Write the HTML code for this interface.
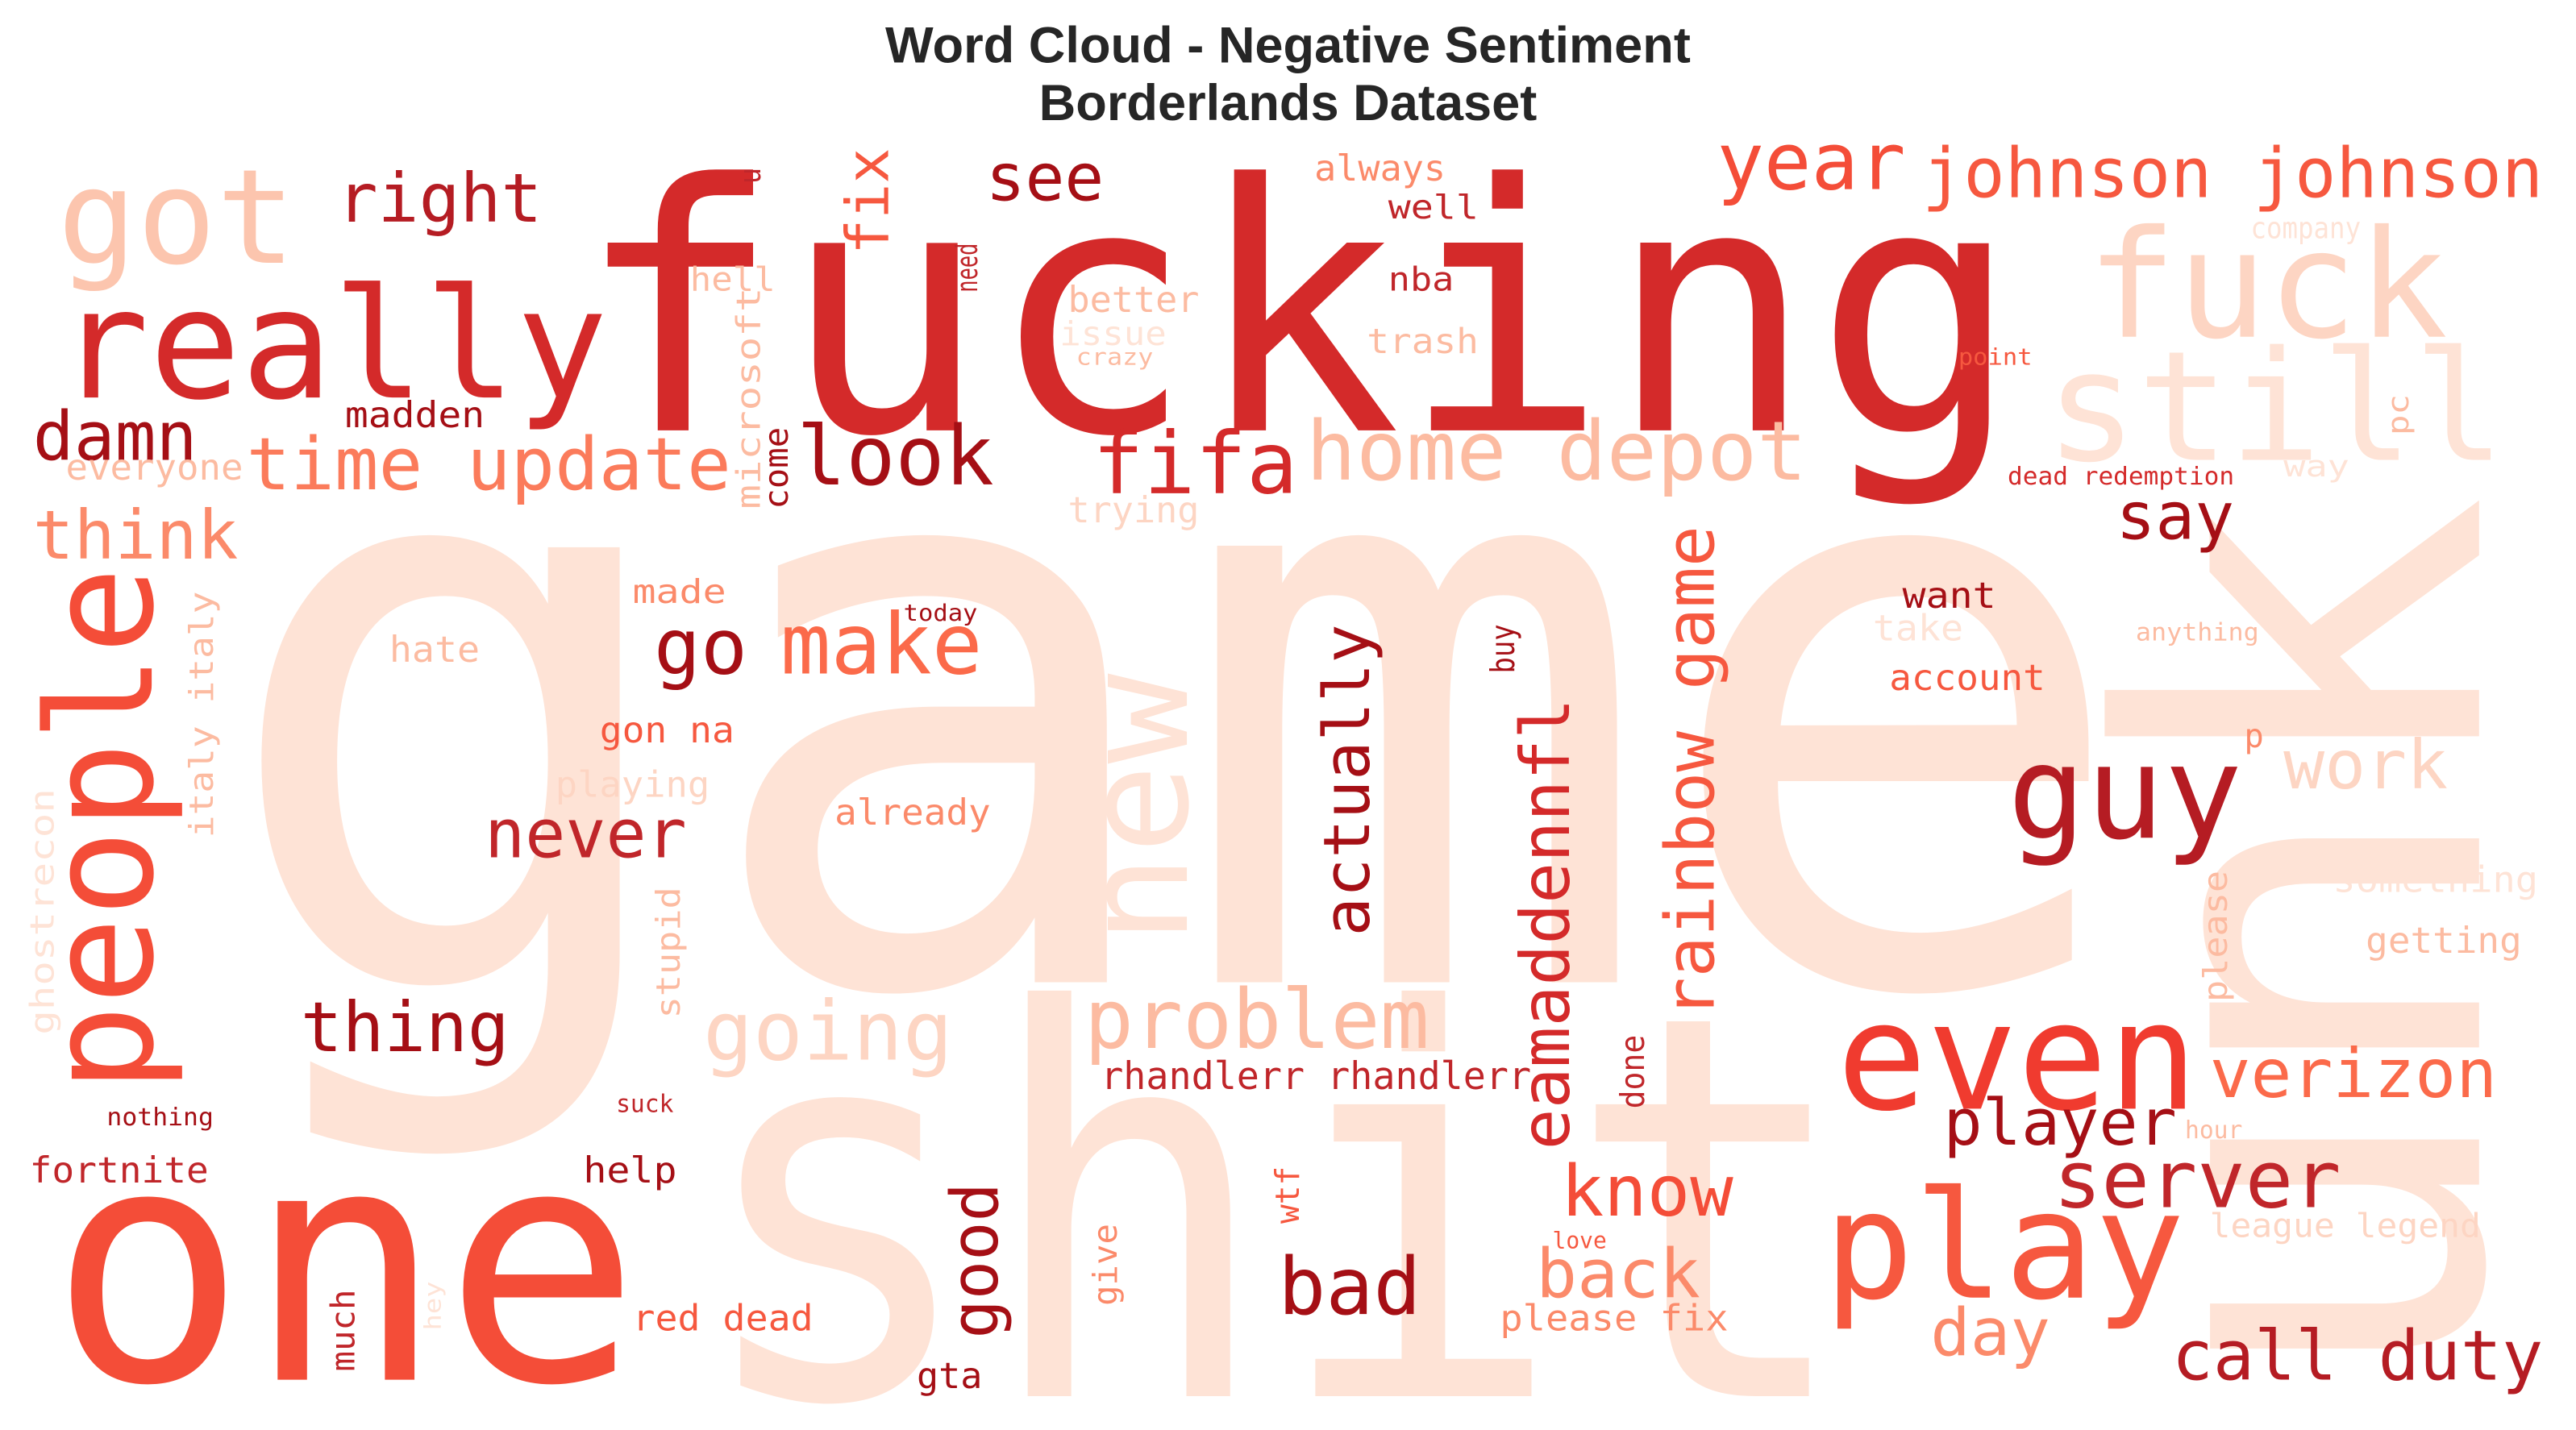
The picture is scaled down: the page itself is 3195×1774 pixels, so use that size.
<!DOCTYPE html>
<html><head><meta charset="utf-8">
<style>
html,body{margin:0;padding:0;background:#fff;width:3195px;height:1774px;overflow:hidden}
svg{display:block}
.t{font-family:"Liberation Sans",sans-serif;font-weight:bold;fill:#262626;text-anchor:middle}
.w{font-family:"DejaVu Sans Mono","Liberation Mono",monospace}
</style></head>
<body>
<svg id="cloud" width="3195" height="1774" viewBox="0 0 1568 870.6" xmlns="http://www.w3.org/2000/svg" overflow="hidden">
<rect width="1568" height="871" fill="#fff"/>
<text class="t" x="784" y="38" font-size="31">Word Cloud - Negative Sentiment</text>
<text class="t" x="784" y="73" font-size="31">Borderlands Dataset</text>
<g id="words"></g>
</svg>
<script>
// word, x, y (baseline/bottom), size, color, vertical(1), width
const words = [
["game",130,598,486,"#fee3d6",0,1170],
["shit",420,850,325,"#fee3d6",0,710],
["unk",1545,850,300,"#fee3d6",1,550],
["fucking",350,262,209,"#d42a2a",0,880],
["one",30,840,199,"#f44d38",0,360],
["really",35,242,93,"#d42a2a",0,335],
["got",35,160,80,"#fcc5ae",0,145],
["fuck",1270,205,91,"#fdd5c3",0,220],
["still",1245,280,93,"#fee3d6",0,280],
["people",103,665,89,"#f44d38",1,320],
["right",205,135,41,"#b51c23",0,125],
["fix",545,155,36,"#f6583f",1,65],
["see",600,122,40,"#a50f15",0,72],
["u",465,112,18,"#c0262a",1,10],
["year",1045,115,48,"#f44d38",0,115],
["johnson johnson",1170,120,42,"#f6583f",0,378],
["always",800,110,22,"#fb8a6a",0,80],
["well",845,133,20,"#c0262a",0,55],
["company",1370,145,18,"#fee3d6",0,67],
["hell",420,177,20,"#fcbba1",0,52],
["need",597,178,18,"#c0262a",1,30],
["microsoft",465,310,20,"#fcbba1",1,135],
["better",650,190,22,"#fcbba1",0,80],
["nba",845,177,20,"#c0262a",0,40],
["issue",645,210,20,"#fee3d6",0,65],
["crazy",655,222,14,"#fcbba1",0,47],
["trash",832,215,21,"#fcbba1",0,68],
["point",1192,222,14,"#f6583f",0,45],
["pc",1468,265,18,"#fcbba1",1,25],
["damn",20,280,41,"#a50f15",0,100],
["madden",210,260,22,"#a50f15",0,85],
["time update",150,298,44,"#fb7b5b",0,295],
["look",485,295,50,"#a50f15",0,120],
["fifa",665,300,52,"#d42a2a",0,125],
["home depot",795,292,50,"#fcbba1",0,305],
["everyone",40,292,22,"#fcbba1",0,108],
["come",482,310,20,"#a50f15",1,50],
["dead redemption",1222,295,15,"#d42a2a",0,138],
["way",1390,290,18,"#fee3d6",0,40],
["think",20,340,41,"#fb8a6a",0,125],
["trying",650,318,22,"#fdd5c3",0,80],
["say",1288,328,40,"#a50f15",0,72],
["made",385,367,20,"#fb8a6a",0,57],
["italy italy",132,510,20,"#fcbba1",1,150],
["go",398,410,47,"#a50f15",0,57],
["make",475,410,51,"#fb6a4a",0,123],
["new",733,575,88,"#fee3d6",1,165],
["today",550,378,14,"#a50f15",0,45],
["actually",838,570,39,"#a50f15",1,190],
["buy",924,410,20,"#a50f15",1,30],
["want",1158,370,22,"#a50f15",0,57],
["take",1140,390,22,"#fee3d6",0,55],
["anything",1300,390,15,"#fcbba1",0,75],
["account",1150,420,22,"#f6583f",0,95],
["hate",237,403,22,"#fcbba1",0,55],
["gon na",365,452,22,"#f6583f",0,82],
["eamaddennfl",960,700,41,"#d42a2a",1,275],
["rainbow game",1048,620,41,"#f6583f",1,300],
["p",1366,455,20,"#fb8a6a",0,12],
["work",1390,480,41,"#fdd5c3",0,100],
["playing",338,485,22,"#fdd5c3",0,94],
["already",508,502,22,"#fb8a6a",0,95],
["guy",1222,510,79,"#b51c23",0,143],
["never",295,522,41,"#c0262a",0,123],
["ghostrecon",35,630,20,"#fee3d6",1,150],
["stupid",416,620,20,"#fcbba1",1,80],
["please",1358,610,20,"#fcbba1",1,80],
["something",1420,543,22,"#fee3d6",0,125],
["getting",1440,580,22,"#fcbba1",0,95],
["thing",183,640,42,"#a50f15",0,127],
["going",428,645,50,"#fdd5c3",0,152],
["problem",660,638,50,"#fcbba1",0,210],
["even",1118,675,91,"#f03b2f",0,220],
["verizon",1345,668,41,"#fb6a4a",0,175],
["rhandlerr rhandlerr",670,663,23,"#c0262a",0,262],
["done",1003,675,20,"#c0262a",1,45],
["suck",375,677,15,"#c0262a",0,35],
["nothing",65,685,15,"#a50f15",0,65],
["player",1183,697,39,"#a50f15",0,142],
["hour",1330,693,15,"#fcbba1",0,35],
["fortnite",18,720,22,"#c0262a",0,109],
["help",355,720,22,"#a50f15",0,57],
["good",612,815,40,"#a50f15",1,95],
["wtf",793,745,20,"#f6583f",1,35],
["know",950,740,43,"#f44d38",0,105],
["server",1250,735,48,"#c0262a",0,175],
["play",1110,790,91,"#f6583f",0,220],
["league legend",1345,753,20,"#fdd5c3",0,165],
["love",945,760,14,"#f6583f",0,33],
["give",682,795,20,"#fb8a6a",1,50],
["bad",778,800,48,"#a50f15",0,87],
["back",935,790,41,"#fb8a6a",0,100],
["much",218,835,20,"#c0262a",1,50],
["hey",270,810,14,"#fee3d6",1,30],
["red dead",385,810,22,"#f6583f",0,110],
["please fix",913,810,22,"#fb8a6a",0,139],
["day",1175,825,40,"#fb8a6a",0,73],
["call duty",1322,840,42,"#b51c23",0,226],
["gta",558,845,22,"#a50f15",0,40]
];
const g = document.getElementById('words');
const NS = 'http://www.w3.org/2000/svg';
words.forEach(w => {
  const t = document.createElementNS(NS, 'text');
  t.setAttribute('class', 'w');
  t.setAttribute('font-size', w[3]);
  t.setAttribute('fill', w[4]);
  t.setAttribute('textLength', w[6]);
  t.setAttribute('lengthAdjust', 'spacingAndGlyphs');
  if (w[5]) {
    t.setAttribute('transform', 'translate(' + (w[1] - w[3] * 0.12) + ',' + w[2] + ') rotate(-90)');
  } else {
    t.setAttribute('x', w[1]);
    t.setAttribute('y', w[2]);
  }
  t.textContent = w[0];
  
  
  g.appendChild(t);
});
</script>
</body></html>
